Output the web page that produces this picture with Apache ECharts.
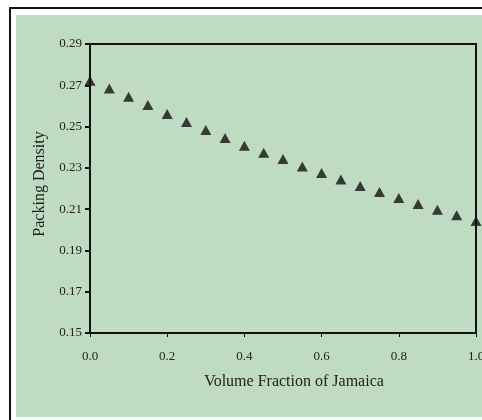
<!DOCTYPE html>
<html>
<head>
<meta charset="utf-8">
<script src="https://cdn.jsdelivr.net/npm/echarts@6/dist/echarts.min.js"></script>
<style>
  html, body { margin: 0; padding: 0; background: #fff; }
  #chart { width: 482px; height: 420px; }
</style>
</head>
<body>
<div id="chart"></div>
<script>
// volume fraction of Jamaica (x) and packing density (y)
const fractions = [0.0, 0.05, 0.1, 0.15, 0.2, 0.25, 0.3, 0.35, 0.4, 0.45, 0.5,
  0.55, 0.6, 0.65, 0.7, 0.75, 0.8, 0.85, 0.9, 0.95, 1.0];
const density = [0.2722, 0.2685, 0.2645, 0.2604, 0.2561, 0.2522, 0.2483, 0.2445,
  0.2407, 0.2373, 0.2343, 0.2307, 0.2275, 0.2243, 0.2212, 0.2183, 0.2154,
  0.2125, 0.2097, 0.2070, 0.2042];

const font = 'Liberation Serif';

window.onload = function () {
  const myChart = echarts.init(document.getElementById('chart'));

  const points = fractions.map((x, i) => [x, density[i]]);

  const option = {
    animation: false,
    backgroundColor: '#fff',
    graphic: [
      // outer frame and the green chart area
      { type: 'rect', z: -10, shape: { x: 10, y: 8, width: 500, height: 430 },
        style: { fill: '#fff', stroke: '#111', lineWidth: 2 } },
      { type: 'rect', z: -9, shape: { x: 16, y: 15, width: 480, height: 402 },
        style: { fill: '#bfdcc3' } },
    ],
    grid: {
      left: 90, top: 44, width: 386, height: 289,
      outerBoundsMode: 'none',
      show: true, borderColor: '#111', borderWidth: 2,
      backgroundColor: 'transparent',
    },
    xAxis: {
      type: 'value', min: 0, max: 1, interval: 0.2,
      name: 'Volume Fraction of Jamaica',
      nameLocation: 'middle', nameGap: 41,
      nameTextStyle: { fontFamily: font, fontSize: 16, color: '#222', padding: [0, 0, 0, 22] },
      axisLine: { show: false },
      axisTick: { show: true, inside: false, length: 4, lineStyle: { color: '#111', width: 1 } },
      splitLine: { show: false },
      axisLabel: { fontFamily: font, fontSize: 13, color: '#222', margin: 17,
        formatter: (v) => v.toFixed(1) },
    },
    yAxis: {
      type: 'value', min: 0.15, max: 0.29, interval: 0.02,
      name: 'Packing Density',
      nameLocation: 'middle', nameGap: 42,
      nameTextStyle: { fontFamily: font, fontSize: 16, color: '#222', padding: [0, 0, 0, 9] },
      axisLine: { show: false },
      axisTick: { show: true, inside: false, length: 5, lineStyle: { color: '#111', width: 2 } },
      splitLine: { show: false },
      axisLabel: { fontFamily: font, fontSize: 13, color: '#222', margin: 8,
        formatter: (v) => v.toFixed(2) },
    },
    series: [{
      type: 'scatter',
      data: points,
      symbol: 'triangle',
      symbolSize: [11, 10],
      clip: false,
      itemStyle: { color: '#111' },
    }],
  };

  myChart.setOption(option);
};
</script>
</body>
</html>
